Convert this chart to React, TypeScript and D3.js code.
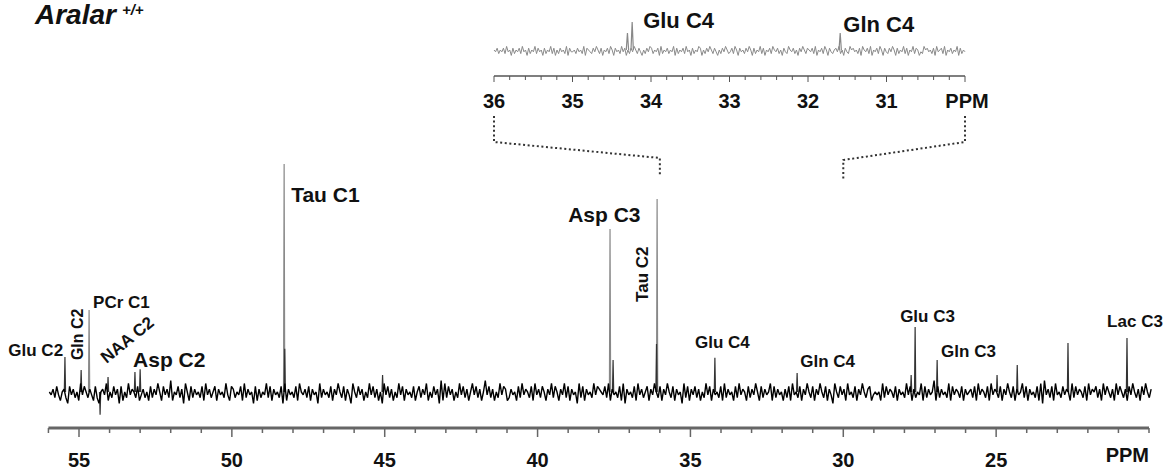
import React from 'react';
import * as d3 from 'd3';

const W = 1171;
const H = 476;

// main spectrum peaks: chemical shift (ppm) and height (Tau C1 = 100)
const peakPpm = [55.46, 54.93, 54.67, 54.05, 54.31, 53.17, 53.0, 48.29, 48.27, 45.07, 37.63, 37.53, 36.09, 36.11, 34.2, 31.51, 27.65, 27.78, 26.93, 24.97, 24.31, 22.65, 20.72];
const peakHeight = [15.4, 9.6, 36, 6.6, -10, 8.8, 10, 100, 19, 7.5, 71.5, 14, 84.6, 21, 15, 8.3, 28.5, 7.5, 14, 7.5, 11.8, 21.5, 23.7];

// baseline noise, one digit per sample (5 = zero)
const noiseDigits = [
  '54637425631746352847536427315648253746172538465372',
  '46352736485274639254736185273645372846357264538427',
  '63547283645172635483726453718264537285463726451836',
  '45372648537264185374625384736251847362538472645372',
  '57364825374619283746253847362584736259473625384762',
  '36452738465372846375264837526483726451837264538476',
  '54738264537281645372846357264853726485372645183726',
  '47362538472645372836452738465273648527364582736452',
  '63728453726485372648537264185374628453726485367245',
  '45283746537264538472635482736459273645382746537264',
  '56372846537284653726485372645837264537281946372845',
  '37465283746537284657362847536284753627485362748536',
].join('');
const noiseFrom = 55.97;
const noiseTo = 19.93;
const noiseUnit = 1.25;

const mainMajorTicks = [55, 50, 45, 40, 35, 30, 25];

// inset (36-30 ppm)
const insetPeakPpm = [34.24, 34.3, 31.59];
const insetPeakHeight = [28, 17, 17];
const insetNoiseDigits = [
  '54635463745263546374526354736452635473625364537264',
  '45364537265436475362546375264537462536475364253647',
  '63546273546354726354637452635476253647536425364753',
  '46375264536475263547362546375463526437546352647536',
  '54637254637526435647352643756453627546372546375264',
  '36475263547362547365243756453627456372546354726354',
].join('');
const insetNoiseUnit = 1.8;
const insetTickLabels = ['36', '35', '34', '33', '32', '31', 'PPM'];
const insetTickValues = [36, 35, 34, 33, 32, 31, 30];

type Ann = { text: string; ppm: number; v: number; size: number; rot?: number };
const annotations: Ann[] = [
  { text: 'Glu C2', ppm: 55.52, v: 15.8, size: 17, rot: 0 },
  { text: 'Gln C2', ppm: 54.87, v: 14, size: 16, rot: -90 },
  { text: 'PCr C1', ppm: 54.54, v: 36.8, size: 17 },
  { text: 'NAA C2', ppm: 54.1, v: 12.3, size: 17, rot: -39 },
  { text: 'Asp C2', ppm: 53.23, v: 11, size: 21 },
  { text: 'Tau C1', ppm: 48.06, v: 83.3, size: 21 },
  { text: 'Asp C3', ppm: 39.0, v: 74.6, size: 21 },
  { text: 'Tau C2', ppm: 36.39, v: 39.5, size: 17, rot: -90 },
  { text: 'Glu C4', ppm: 34.85, v: 19.3, size: 17 },
  { text: 'Gln C4', ppm: 31.41, v: 11, size: 17 },
  { text: 'Glu C3', ppm: 28.14, v: 30.7, size: 17 },
  { text: 'Gln C3', ppm: 26.8, v: 15.4, size: 17 },
  { text: 'Lac C3', ppm: 21.37, v: 28.5, size: 17 },
];

const FONT = '"Liberation Sans", Arial, Helvetica, sans-serif';

export default function App() {
  const x = d3.scaleLinear().domain([55, 20]).range([79, 1149]);
  const y = d3.scaleLinear().domain([0, 100]).range([392, 164]);
  const ix = d3.scaleLinear().domain([36, 30]).range([494, 965]);
  const iy = d3.scaleLinear().domain([0, 28]).range([50, 22]);

  const line = d3.line<[number, number]>().x(d => x(d[0])).y(d => y(d[1]));
  const iline = d3.line<[number, number]>().x(d => ix(d[0])).y(d => iy(d[1]));

  const n = noiseDigits.length;
  const noisePts: [number, number][] = noiseDigits.split('').map((c, i) => [
    noiseFrom - (i * (noiseFrom - noiseTo)) / (n - 1),
    (+c - 5) * noiseUnit,
  ]);
  const m = insetNoiseDigits.length;
  const insetPts: [number, number][] = insetNoiseDigits.split('').map((c, i) => [
    36 - (i * 6) / (m - 1),
    (+c - 5) * insetNoiseUnit,
  ]);

  const minorTicks = d3.range(56, 19.5, -1);
  const insetMinor = d3.range(0, 31).map(i => 36 - i * 0.2);

  const connector = d3.line<[number, number]>();
  const baseY = 428;

  return (
    <svg width={W} height={H} style={{ position: 'absolute', left: 0, top: 0, background: '#fff' }} fontFamily={FONT}>
      {/* title */}
      <text x={35} y={24} fontSize={28} fontWeight="bold" fontStyle="italic" fill="#111">
        Aralar
        <tspan dx={6} dy={-9} fontSize={15}>+/+</tspan>
      </text>

      {/* inset spectrum */}
      <path d={iline(insetPts) || ''} fill="none" stroke="#8a8a8a" strokeWidth={1} />
      {insetPeakPpm.map((p, i) => (
        <path key={i} d={iline([[p + 0.015, 0], [p, insetPeakHeight[i]], [p - 0.015, 0]]) || ''} fill="none" stroke="#888" strokeWidth={1.2} />
      ))}
      <text x={ix(34.1)} y={iy(22)} fontSize={22} fontWeight="bold" fill="#111">Glu C4</text>
      <text x={ix(31.55)} y={iy(18)} fontSize={22} fontWeight="bold" fill="#111">Gln C4</text>
      <line x1={ix(36)} x2={ix(30)} y1={76} y2={76} stroke="#555" strokeWidth={1.5} />
      {insetMinor.map((t, i) => (
        <line key={i} x1={ix(t)} x2={ix(t)} y1={76} y2={i % 5 === 0 ? 82 : 80} stroke="#555" strokeWidth={1} />
      ))}
      {insetTickValues.map((t, i) => (
        <text key={i} x={ix(t) + (i === 6 ? 2 : 0)} y={108} fontSize={20} fontWeight="bold" textAnchor="middle" fill="#111">
          {insetTickLabels[i]}
        </text>
      ))}

      {/* dotted connectors */}
      <path d={connector([[ix(36), 116], [ix(36), 142], [x(36), 158], [x(36), 177]]) || ''} fill="none" stroke="#333" strokeWidth={2} strokeDasharray="2 2.6" />
      <path d={connector([[ix(30), 116], [ix(30), 142], [x(30), 160], [x(30), 179]]) || ''} fill="none" stroke="#333" strokeWidth={2} strokeDasharray="2 2.6" />

      {/* main spectrum */}
      {peakPpm.map((p, i) => (
        <path key={i} d={line([[p + 0.02, 0], [p, peakHeight[i]], [p - 0.02, 0]]) || ''} fill="none" stroke={Math.abs(peakHeight[i]) > 30 ? '#888' : '#333'} strokeWidth={1.2} />
      ))}
      <path d={line(noisePts) || ''} fill="none" stroke="#000" strokeWidth={1.4} strokeLinejoin="bevel" />

      {annotations.map((a, i) => {
        const ax = x(a.ppm);
        const ay = y(a.v);
        return (
          <text
            key={i}
            transform={`translate(${ax},${ay}) rotate(${a.rot || 0})`}
            fontSize={a.size}
            fontWeight="bold"
            textAnchor={a.text === 'Glu C2' ? 'end' : 'start'}
            fill="#111"
          >
            {a.text}
          </text>
        );
      })}

      {/* main axis */}
      <line x1={x(56)} x2={x(20)} y1={baseY} y2={baseY} stroke="#666" strokeWidth={3} />
      {minorTicks.map((t, i) => (
        <line key={i} x1={x(t)} x2={x(t)} y1={baseY} y2={mainMajorTicks.includes(t) ? baseY + 9 : baseY + 5} stroke="#666" strokeWidth={1.5} />
      ))}
      {mainMajorTicks.map(t => (
        <text key={t} x={x(t)} y={467} fontSize={20} fontWeight="bold" textAnchor="middle" fill="#111">{t}</text>
      ))}
      <text x={x(20)} y={462} fontSize={20} fontWeight="bold" textAnchor="end" fill="#111">PPM</text>
    </svg>
  );
}
